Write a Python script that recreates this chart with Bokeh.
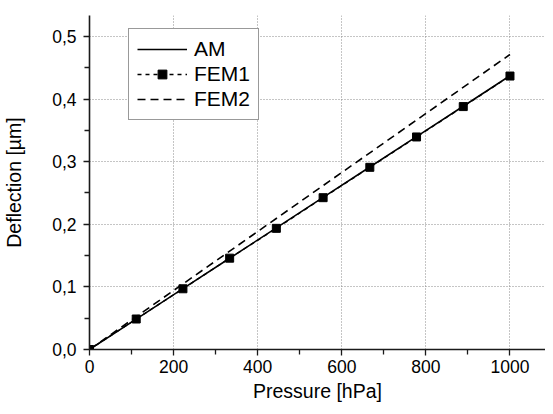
from bokeh.plotting import figure
from bokeh.models import Range1d, FixedTicker, CustomJSTickFormatter, Legend, LegendItem
from bokeh.embed import file_html
from bokeh.resources import INLINE

# ---- data ----
pressure = [0, 111.1, 222.2, 333.3, 444.4, 555.6, 666.7, 777.8, 888.9, 1000]
am = [0, 0.0486, 0.0972, 0.1457, 0.1943, 0.2429, 0.2915, 0.3400, 0.3886, 0.4372]
fem1 = [0, 0.0487, 0.0970, 0.1459, 0.1935, 0.2425, 0.2910, 0.3395, 0.3880, 0.4368]
fem2_x = [0, 1000]
fem2 = [0, 0.4712]

x_major = [0, 200, 400, 600, 800, 1000]
x_minor = [100, 300, 500, 700, 900, 1100]
y_major = [0.0, 0.1, 0.2, 0.3, 0.4, 0.5]
y_minor = [0.05, 0.15, 0.25, 0.35, 0.45]

x_title = "Pressure [hPa]"
y_title = "Deflection [µm]"

FONT = "Liberation Sans"

p = figure(width=545, height=406, output_backend="svg", toolbar_location=None,
           x_range=Range1d(0, 1084.5), y_range=Range1d(0, 0.5335),
           min_border_left=87, min_border_top=15, min_border_bottom=57, min_border_right=0)
p.outline_line_color = None
p.background_fill_color = "white"
p.border_fill_color = "white"

p.xaxis.ticker = FixedTicker(ticks=x_major, minor_ticks=x_minor)
p.yaxis.ticker = FixedTicker(ticks=y_major, minor_ticks=y_minor)
p.yaxis.formatter = CustomJSTickFormatter(code="return tick.toFixed(1).replace('.', ',');")
p.xaxis.formatter = CustomJSTickFormatter(code="return tick.toFixed(0);")

for ax in (p.xaxis[0], p.yaxis[0]):
    ax.axis_line_width = 1.6
    ax.axis_line_color = "#1a1a1a"
    ax.major_tick_line_color = "#1a1a1a"
    ax.minor_tick_line_color = "#1a1a1a"
    ax.major_tick_line_width = 1.3
    ax.minor_tick_line_width = 1.3
    ax.major_tick_in = 0
    ax.major_tick_out = 6
    ax.minor_tick_in = 0
    ax.minor_tick_out = 5
    ax.major_label_text_font = FONT
    ax.major_label_text_font_size = "17.5px"
    ax.major_label_text_color = "black"
    ax.axis_label_text_font = FONT
    ax.axis_label_text_font_size = "19.5px"
    ax.axis_label_text_font_style = "normal"
    ax.axis_label_text_color = "black"

p.xaxis.axis_label = x_title
p.yaxis.axis_label = y_title
p.xaxis.major_label_standoff = 4
p.yaxis.major_label_standoff = 7
p.xaxis.axis_label_standoff = 4
p.yaxis.axis_label_standoff = 24

for g in (p.xgrid[0], p.ygrid[0]):
    g.grid_line_color = "#8a8a8a"
    g.grid_line_dash = "1 2"
    g.grid_line_width = 1

r_am = p.line(pressure, am, line_color="black", line_width=1.6)
r_f1l = p.line(pressure, fem1, line_color="black", line_width=1.4, line_dash="4 4")
r_f1m = p.scatter(pressure, fem1, marker="square", size=8, fill_color="black", line_color="black")
r_f2 = p.line(fem2_x, fem2, line_color="black", line_width=1.6, line_dash="8 5")

legend = Legend(items=[
    LegendItem(label="AM", renderers=[r_am]),
    LegendItem(label="FEM1", renderers=[r_f1l, r_f1m]),
    LegendItem(label="FEM2", renderers=[r_f2]),
], location=(39, 229))
legend.label_text_font = FONT
legend.label_text_font_size = "21px"
legend.label_text_color = "black"
legend.glyph_width = 50
legend.glyph_height = 22
legend.label_height = 22
legend.label_standoff = 7
legend.spacing = 1
legend.padding = 8
legend.margin = 0
legend.border_line_color = "#333333"
legend.border_line_width = 1
legend.background_fill_color = "white"
legend.background_fill_alpha = 1
p.add_layout(legend, "center")

open("out.html", "w").write(file_html(p, INLINE))
